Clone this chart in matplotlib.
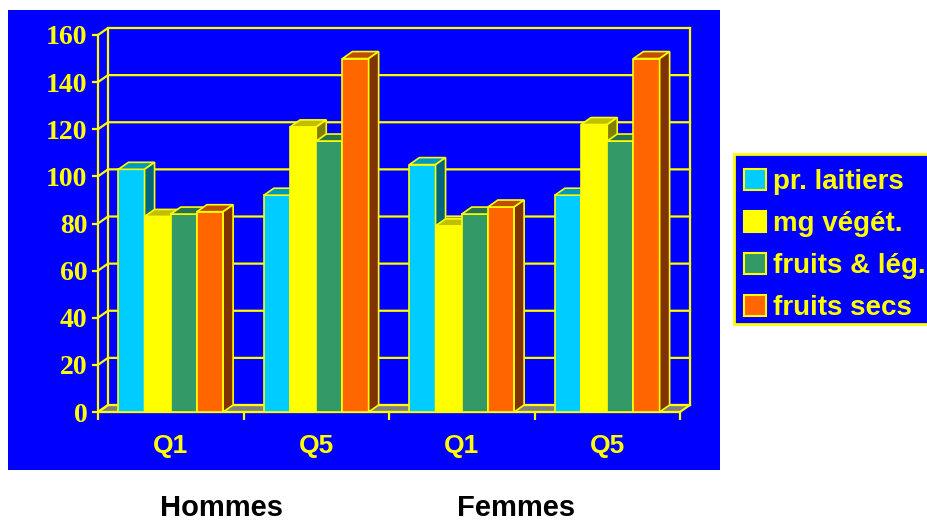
import matplotlib
matplotlib.use("Agg")
import matplotlib.pyplot as plt
import numpy as np
from matplotlib.patches import Polygon, Rectangle, Patch
from matplotlib.colors import to_rgb

# consumption index by quintile (Q1 / Q5), men then women
groups = ["Q1", "Q5", "Q1", "Q5"]
sexes = ["Hommes", "Femmes"]
series = ["pr. laitiers", "mg végét.", "fruits & lég.", "fruits secs"]
colors = ["#00ccff", "#ffff00", "#339966", "#ff6600"]
pr_laitiers = [103, 92, 105, 92]
mg_veget = [83, 121, 79, 122]
fruits_leg = [84, 115, 84, 115]
fruits_secs = [85, 150, 87, 150]
values = [pr_laitiers, mg_veget, fruits_leg, fruits_secs]
yticks = np.arange(0, 161, 20)

YEL = "#ffff00"
BLUE = "#0000ff"
sans = ["Liberation Sans", "DejaVu Sans"]
serif = ["Liberation Serif", "DejaVu Serif"]

W, H = 928, 524
fig = plt.figure(figsize=(W / 100, H / 100), dpi=100)
# chart background panel and legend box
fig.patches.append(Rectangle((8 / W, 54 / H), 712 / W, 460 / H, transform=fig.transFigure,
                             facecolor=BLUE, edgecolor="none", zorder=-1))
fig.patches.append(Rectangle((734 / W, 1 - 324 / H), 210 / W, 170 / H, transform=fig.transFigure,
                             facecolor=BLUE, edgecolor=YEL, lw=2, zorder=-1))

ax_w, ax_h = 582, 377
ax = fig.add_axes([98 / W, 112 / H, ax_w / W, ax_h / H])
ax.set_facecolor("none")
ax.set_xlim(0, 4)
ax.set_ylim(0, 160)

# depth offset for the 3-D look (10 px right, 7 px up) in data units
dx = 10 / (ax_w / 4)
dy = 7 / (ax_h / 160)

# floor
ax.add_patch(Polygon([(0, 0), (dx, dy), (4 + dx, dy), (4, 0)], closed=True,
                     facecolor="#808080", edgecolor=YEL, lw=1.5, clip_on=False, zorder=1))
# back wall grid and side wall lines
for v in yticks:
    ax.plot([0, dx, 4 + dx], [v, v + dy, v + dy], color=YEL, lw=1.6, clip_on=False, zorder=1.5)
ax.plot([dx, dx], [dy, 160 + dy], color=YEL, lw=1.6, clip_on=False, zorder=1.5)
ax.plot([4 + dx, 4 + dx], [dy, 160 + dy], color=YEL, lw=1.6, clip_on=False, zorder=1.5)


def shade(c, f):
    r, g, b = to_rgb(c)
    return (r * f, g * f, b * f)


bw = 0.18
for g in range(len(groups)):
    for s in range(len(series)):
        x0 = g + 0.14 + s * bw
        h = values[s][g]
        z = 3 + g * 0.1 + s * 0.01
        c = colors[s]
        ax.bar(x0, h, width=bw, align="edge", color=c, edgecolor=YEL, lw=1.2, zorder=z)
        ax.add_patch(Polygon([(x0, h), (x0 + dx, h + dy), (x0 + bw + dx, h + dy), (x0 + bw, h)],
                             closed=True, facecolor=shade(c, 0.75), edgecolor=YEL, lw=1.2,
                             zorder=z, clip_on=False))
        ax.add_patch(Polygon([(x0 + bw, 0), (x0 + bw + dx, dy), (x0 + bw + dx, h + dy), (x0 + bw, h)],
                             closed=True, facecolor=shade(c, 0.5), edgecolor=YEL, lw=1.2,
                             zorder=z, clip_on=False))

for side in ["top", "right"]:
    ax.spines[side].set_visible(False)
for side in ["left", "bottom"]:
    ax.spines[side].set_color(YEL)
    ax.spines[side].set_linewidth(1.6)

ax.set_yticks(yticks)
ax.set_yticklabels([str(v) for v in yticks], fontfamily=serif, fontweight="bold", fontsize=20, color=YEL)
ax.tick_params(axis="y", colors=YEL, length=4.5, width=1.6, pad=3)

ax.set_xticks(np.arange(0, 5))
ax.set_xticklabels([])
ax.set_xticks(np.arange(len(groups)) + 0.5, minor=True)
ax.set_xticklabels(groups, minor=True, fontfamily=sans, fontweight="bold", fontsize=19, color=YEL)
ax.tick_params(axis="x", which="major", colors=YEL, length=6, width=1.6)
ax.tick_params(axis="x", which="minor", length=0, pad=16)

handles = [Patch(facecolor=c, edgecolor=YEL, lw=1.5) for c in colors]
leg = fig.legend(handles, series, loc="upper left", bbox_to_anchor=(733 / W, 1 - 158 / H),
                 frameon=False, prop={"family": sans, "weight": "bold", "size": 20},
                 labelcolor=YEL, handlelength=0.8, handleheight=0.8, handletextpad=0.25,
                 labelspacing=0.56, borderpad=0.4, borderaxespad=0)

fig.text(222 / W, 1 - 508 / H, sexes[0], ha="center", va="center",
         fontfamily=sans, fontweight="bold", fontsize=21, color="black")
fig.text(516 / W, 1 - 508 / H, sexes[1], ha="center", va="center",
         fontfamily=sans, fontweight="bold", fontsize=21, color="black")

fig.savefig("out.png", dpi=100, facecolor="white")
